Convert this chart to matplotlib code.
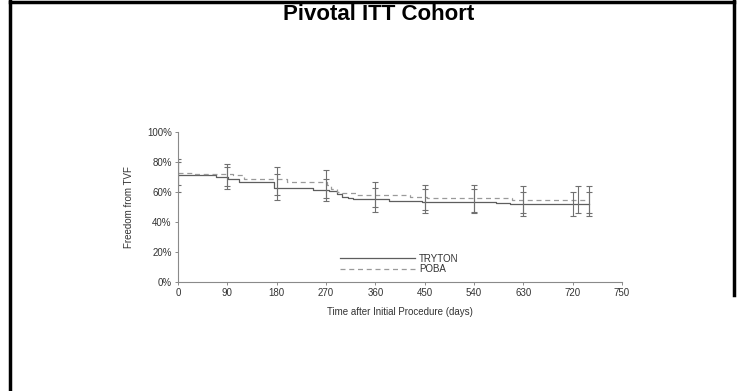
import matplotlib
matplotlib.use("Agg")
import matplotlib.pyplot as plt
from matplotlib.ticker import FuncFormatter
from matplotlib.lines import Line2D
import numpy as np

plt.rcParams['font.family'] = ['Liberation Sans', 'DejaVu Sans']

title = "Pivotal ITT Cohort"
x_label = "Time after Initial Procedure (days)"
y_label = "Freedom from TVF"
series_names = ["TRYTON", "POBA"]

# Kaplan-Meier step curves (days, % free from TVF)
tryton_t = [0, 70, 92, 112, 130, 175, 182, 246, 275, 290, 300, 310, 320, 330, 385, 445, 580, 606, 750]
tryton_s = [71.3, 70.2, 68.5, 67.0, 66.4, 63.0, 62.4, 61.3, 60.5, 58.5, 57.0, 56.0, 55.3, 55.1, 54.0, 53.6, 52.4, 51.8, 51.8]
poba_t = [0, 25, 100, 120, 199, 272, 280, 290, 300, 327, 424, 455, 610, 750]
poba_s = [73.0, 72.3, 71.6, 69.0, 67.0, 64.4, 62.0, 60.2, 59.1, 58.0, 56.5, 55.8, 55.0, 55.0]

# confidence intervals
tryton_ci_t = [0, 90, 180, 270, 360, 450, 540, 630, 720, 750]
tryton_ci_est = [71.3, 70.2, 63.0, 61.3, 55.1, 53.6, 53.6, 51.8, 51.8, 51.8]
tryton_ci_lo = [60, 62, 55, 54, 47, 46, 46, 44, 44, 44]
tryton_ci_hi = [80, 77, 72, 69, 63, 62, 62, 60, 60, 60]
poba_ci_t = [0, 90, 180, 270, 360, 450, 540, 630, 730, 750]
poba_ci_est = [73.0, 71.6, 69.0, 67.0, 58.0, 56.5, 55.8, 55.0, 55.0, 55.0]
poba_ci_lo = [65, 64, 58, 56, 50, 48, 47, 46, 46, 46]
poba_ci_hi = [82, 79, 77, 75, 67, 65, 65, 64, 64, 64]

# axis ticks (the last label sits one step further, as in the source)
x_tick_pos = [0, 90, 180, 270, 360, 450, 540, 630, 720, 810]
x_tick_labels = ["0", "90", "180", "270", "360", "450", "540", "630", "720", "750"]
y_ticks = [0, 20, 40, 60, 80, 100]

W, H = 737, 391
fig = plt.figure(figsize=(W / 100, H / 100), dpi=100)
ax = fig.add_axes([178 / W, 1 - 282 / H, (622 - 178) / W, (282 - 132) / H])

sol_c = "#5e5e5e"
das_c = "#9a9a9a"
err_c = "#707070"

ax.plot(tryton_t, tryton_s, drawstyle="steps-post", color=sol_c, lw=0.9)
ax.plot(poba_t, poba_s, drawstyle="steps-post", color=das_c, lw=0.9, ls=(0, (4, 3)))

tl = np.array(tryton_ci_est) - np.array(tryton_ci_lo)
th = np.array(tryton_ci_hi) - np.array(tryton_ci_est)
ax.errorbar(tryton_ci_t, tryton_ci_est, yerr=[tl, th], fmt="none", ecolor=err_c,
            elinewidth=0.8, capsize=2.2, capthick=0.8)
pl = np.array(poba_ci_est) - np.array(poba_ci_lo)
ph = np.array(poba_ci_hi) - np.array(poba_ci_est)
ax.errorbar(poba_ci_t, poba_ci_est, yerr=[pl, ph], fmt="none", ecolor=err_c,
            elinewidth=0.8, capsize=2.2, capthick=0.8)

ax.set_xlim(0, 810)
ax.set_ylim(0, 100)
ax.set_xticks(x_tick_pos)
ax.set_xticklabels(x_tick_labels)
ax.set_yticks(y_ticks)
ax.yaxis.set_major_formatter(FuncFormatter(lambda v, p: f"{int(v)}%"))
for s in ["top", "right"]:
    ax.spines[s].set_visible(False)
for s in ["left", "bottom"]:
    ax.spines[s].set_color("#8a8a8a")
    ax.spines[s].set_linewidth(0.8)
ax.tick_params(axis="both", colors="#8a8a8a", labelcolor="#333333", labelsize=7,
               length=2.5, width=0.7, direction="out", pad=2)

ax.set_xlabel(x_label, fontsize=7, color="#333333", labelpad=6)
ax.set_ylabel(y_label, fontsize=7, color="#333333", labelpad=9)

handles = [Line2D([], [], color=sol_c, lw=0.9),
           Line2D([], [], color=das_c, lw=0.9, ls=(0, (4, 3)))]
leg = ax.legend(handles, series_names, loc="center left",
                bbox_to_anchor=((340 - 178) / 444, 0.12),
                frameon=False, fontsize=7, handlelength=7.7, handletextpad=0.4,
                labelspacing=0.05, borderpad=0, borderaxespad=0)
for t in leg.get_texts():
    t.set_color("#333333")

fig.text(379 / W, 1 - 15 / H, title, ha="center", va="center", fontsize=16,
         fontweight="bold", color="black")

# outer frame lines
fig.add_artist(Line2D([10 / W, 10 / W], [0, 1], transform=fig.transFigure, color="black", lw=2.5))
fig.add_artist(Line2D([10 / W, 734 / W], [1 - 1.5 / H, 1 - 1.5 / H], transform=fig.transFigure, color="black", lw=2.5))
fig.add_artist(Line2D([734 / W, 734 / W], [1 - 295 / H, 1], transform=fig.transFigure, color="black", lw=2.5))

fig.savefig("out.png", dpi=100)
